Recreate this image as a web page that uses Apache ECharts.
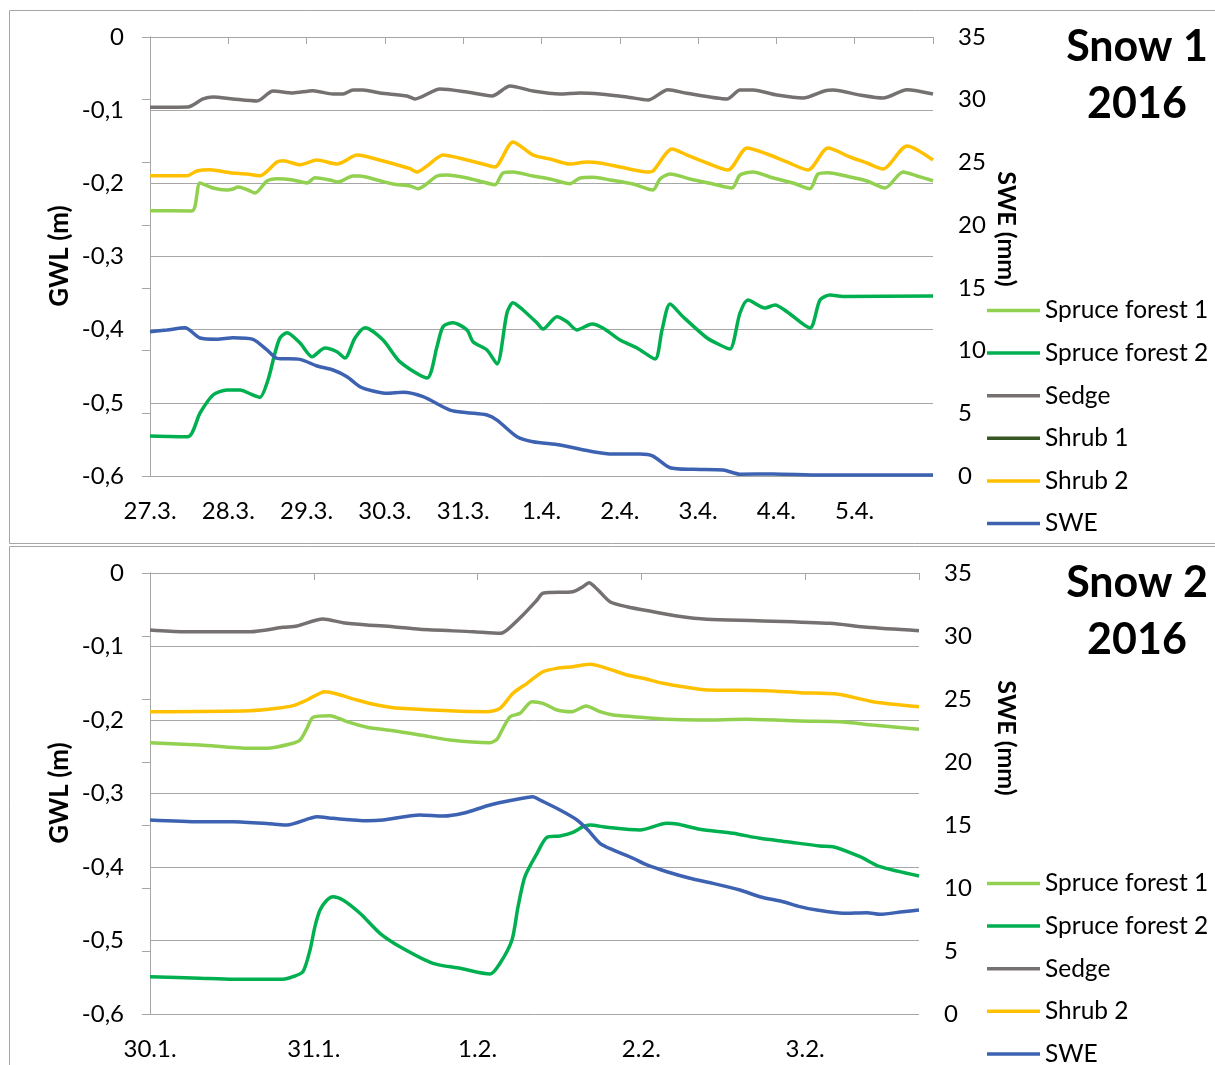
<!DOCTYPE html>
<html><head><meta charset="utf-8">
<script src="https://cdn.jsdelivr.net/npm/echarts@6/dist/echarts.min.js"></script>
<style>html,body{margin:0;padding:0;background:#fff}#c{width:1215px;height:1065px}</style>
</head><body><div id="c"></div>
<script>
// ---------- Snow 1 (days after 27.3. 00:00) ----------
const xLabels1 = ["27.3.","28.3.","29.3.","30.3.","31.3.","1.4.","2.4.","3.4.","4.4.","5.4."];
const xLabels2 = ["30.1.","31.1.","1.2.","2.2.","3.2."];
const seriesNames1 = ["Spruce forest 1","Spruce forest 2","Sedge","Shrub 1","Shrub 2","SWE"];
const seriesNames2 = ["Spruce forest 1","Spruce forest 2","Sedge","Shrub 2","SWE"];

const s1Spruce1 = [[0,-0.2374],[0.536,-0.2378],[0.639,-0.1995],[0.805,-0.2064],[0.983,-0.2091],[1.06,-0.2077],[1.124,-0.205],[1.252,-0.2091],[1.341,-0.2132],[1.494,-0.1968],[1.622,-0.1937],[1.826,-0.1954],[2.005,-0.1995],[2.107,-0.1923],[2.299,-0.1954],[2.401,-0.1982],[2.593,-0.19],[2.682,-0.19],[2.899,-0.1954],[3.103,-0.2009],[3.321,-0.2036],[3.423,-0.2073],[3.665,-0.19],[3.793,-0.1886],[4.049,-0.1927],[4.253,-0.1982],[4.406,-0.2019],[4.508,-0.1859],[4.636,-0.1845],[4.891,-0.19],[5.109,-0.1941],[5.364,-0.2005],[5.492,-0.1927],[5.658,-0.1917],[5.875,-0.1954],[6.169,-0.2009],[6.424,-0.2091],[6.513,-0.1941],[6.641,-0.1872],[6.897,-0.1941],[7.19,-0.2009],[7.433,-0.2064],[7.535,-0.1886],[7.701,-0.1845],[7.918,-0.1913],[8.212,-0.1995],[8.429,-0.2073],[8.531,-0.1872],[8.659,-0.1855],[8.94,-0.1913],[9.157,-0.1968],[9.387,-0.2064],[9.617,-0.1845],[9.796,-0.19],[10,-0.1964]];
const s1Spruce2 = [[0,-0.5453],[0.485,-0.5463],[0.639,-0.5139],[0.805,-0.4893],[0.983,-0.4824],[1.149,-0.4824],[1.315,-0.4893],[1.405,-0.4924],[1.507,-0.4688],[1.596,-0.4319],[1.66,-0.4114],[1.75,-0.4041],[1.916,-0.4182],[2.069,-0.4369],[2.235,-0.425],[2.388,-0.4301],[2.49,-0.4387],[2.618,-0.4114],[2.746,-0.3973],[2.976,-0.4141],[3.193,-0.4440],[3.538,-0.466],[3.665,-0.4233],[3.742,-0.3959],[3.87,-0.3905],[4.049,-0.4004],[4.125,-0.4164],[4.304,-0.4278],[4.432,-0.4469],[4.559,-0.3772],[4.636,-0.3631],[4.764,-0.3731],[4.943,-0.3909],[5.019,-0.3991],[5.198,-0.3823],[5.326,-0.3891],[5.453,-0.4004],[5.645,-0.3922],[5.785,-0.3977],[6.003,-0.4141],[6.22,-0.425],[6.45,-0.4401],[6.539,-0.4004],[6.641,-0.3649],[6.807,-0.3823],[7.114,-0.4114],[7.28,-0.4209],[7.407,-0.4264],[7.535,-0.3772],[7.637,-0.3594],[7.854,-0.3704],[7.982,-0.3663],[8.135,-0.3754],[8.429,-0.3977],[8.557,-0.3594],[8.685,-0.3526],[8.851,-0.3546],[10,-0.354]];
const s1Sedge = [[0,-0.096],[0.485,-0.0957],[0.677,-0.0847],[0.805,-0.082],[1.06,-0.0847],[1.367,-0.0875],[1.571,-0.0738],[1.826,-0.0765],[2.08,-0.0734],[2.337,-0.0779],[2.465,-0.0779],[2.593,-0.0724],[2.72,-0.0724],[2.937,-0.0765],[3.282,-0.0806],[3.384,-0.0847],[3.704,-0.0711],[4.049,-0.0752],[4.368,-0.0806],[4.598,-0.067],[4.891,-0.0738],[5.236,-0.0779],[5.49,-0.0765],[5.747,-0.0779],[6.092,-0.082],[6.36,-0.0861],[6.616,-0.072],[6.858,-0.0769],[7.369,-0.0847],[7.535,-0.0724],[7.701,-0.0724],[8.008,-0.0793],[8.34,-0.0834],[8.621,-0.0734],[8.723,-0.0724],[9.068,-0.0793],[9.362,-0.0834],[9.668,-0.072],[10,-0.0779]];
const s1Shrub1 = [];
const s1Shrub2 = [[0,-0.1896],[0.473,-0.1896],[0.6,-0.1831],[0.766,-0.1814],[1.022,-0.1855],[1.239,-0.1872],[1.405,-0.1896],[1.622,-0.1708],[1.699,-0.1691],[1.916,-0.1745],[2.133,-0.1681],[2.388,-0.1736],[2.465,-0.1708],[2.644,-0.1613],[2.72,-0.1622],[3.027,-0.1708],[3.321,-0.1800],[3.41,-0.1845],[3.538,-0.1763],[3.742,-0.1613],[4.049,-0.1681],[4.342,-0.1763],[4.406,-0.1777],[4.636,-0.1435],[4.891,-0.1613],[5.109,-0.1667],[5.364,-0.1736],[5.581,-0.1708],[5.747,-0.1722],[6.003,-0.1777],[6.347,-0.1845],[6.424,-0.1831],[6.667,-0.1531],[6.858,-0.1613],[7.114,-0.1722],[7.382,-0.1818],[7.625,-0.1517],[7.88,-0.1599],[8.135,-0.1708],[8.404,-0.1818],[8.659,-0.1517],[8.94,-0.164],[9.157,-0.1722],[9.362,-0.1804],[9.668,-0.1489],[10,-0.1681]];
const s1Swe = [[0,11.5],[0.217,11.64],[0.447,11.82],[0.639,11.0],[0.856,10.9],[1.06,11.03],[1.315,10.9],[1.494,10.05],[1.622,9.38],[1.916,9.3],[2.133,8.77],[2.337,8.45],[2.516,7.92],[2.682,7.12],[2.848,6.78],[3.027,6.59],[3.231,6.67],[3.487,6.32],[3.831,5.26],[4.049,5.05],[4.304,4.86],[4.432,4.46],[4.687,3.13],[4.891,2.73],[5.236,2.47],[5.658,1.94],[5.913,1.75],[6.258,1.75],[6.424,1.59],[6.641,0.66],[6.935,0.53],[7.318,0.48],[7.535,0.14],[7.957,0.16],[8.557,0.08],[10,0.08]];

// ---------- Snow 2 (days after 30.1. 00:00) ----------
const s2Spruce1 = [[0,-0.2309],[0.305,-0.234],[0.611,-0.2385],[0.714,-0.2385],[0.855,-0.2327],[0.916,-0.2272],[0.958,-0.2113],[0.995,-0.1963],[1.099,-0.1941],[1.203,-0.2023],[1.325,-0.2099],[1.484,-0.2146],[1.648,-0.2204],[1.832,-0.2272],[2.076,-0.2309],[2.118,-0.2263],[2.155,-0.2113],[2.198,-0.1955],[2.259,-0.1909],[2.332,-0.1751],[2.399,-0.1773],[2.485,-0.1864],[2.576,-0.1887],[2.662,-0.181],[2.747,-0.1887],[2.827,-0.1932],[2.949,-0.1955],[3.156,-0.199],[3.358,-0.2],[3.645,-0.199],[3.968,-0.2014],[4.212,-0.2023],[4.414,-0.2068],[4.695,-0.2127]];
const s2Spruce2 = [[0,-0.5493],[0.305,-0.5514],[0.507,-0.5528],[0.812,-0.5528],[0.873,-0.5493],[0.934,-0.5424],[0.977,-0.5129],[1.007,-0.4812],[1.038,-0.4585],[1.081,-0.4449],[1.117,-0.4404],[1.178,-0.4449],[1.282,-0.463],[1.404,-0.4902],[1.526,-0.5084],[1.728,-0.531],[1.893,-0.5378],[2.076,-0.5456],[2.137,-0.531],[2.21,-0.4993],[2.247,-0.454],[2.289,-0.4132],[2.363,-0.3814],[2.424,-0.3596],[2.503,-0.3578],[2.582,-0.3528],[2.643,-0.3452],[2.686,-0.3429],[2.79,-0.346],[2.991,-0.3497],[3.156,-0.3405],[3.217,-0.3415],[3.358,-0.3487],[3.559,-0.3541],[3.724,-0.361],[3.889,-0.3656],[4.09,-0.3714],[4.17,-0.3724],[4.335,-0.386],[4.457,-0.3996],[4.695,-0.4122]];
const s2Sedge = [[0,-0.0776],[0.201,-0.0799],[0.611,-0.0799],[0.812,-0.0739],[0.897,-0.0721],[1.056,-0.0626],[1.178,-0.0676],[1.325,-0.0707],[1.484,-0.0731],[1.648,-0.0766],[1.972,-0.0799],[2.137,-0.082],[2.179,-0.0776],[2.277,-0.0571],[2.363,-0.0367],[2.399,-0.0276],[2.582,-0.0254],[2.643,-0.0186],[2.68,-0.0132],[2.735,-0.0231],[2.808,-0.039],[2.912,-0.0459],[3.071,-0.0527],[3.217,-0.0585],[3.4,-0.063],[3.706,-0.0649],[4.151,-0.0684],[4.377,-0.0739],[4.695,-0.0785]];
const s2Shrub2 = [[0,-0.1887],[0.611,-0.1873],[0.775,-0.1841],[0.873,-0.1805],[0.958,-0.1728],[1.068,-0.1615],[1.142,-0.1646],[1.264,-0.1728],[1.386,-0.1796],[1.526,-0.1841],[2.057,-0.1887],[2.137,-0.1841],[2.216,-0.1637],[2.302,-0.1501],[2.399,-0.1343],[2.485,-0.1297],[2.582,-0.1275],[2.686,-0.1242],[2.79,-0.1297],[2.912,-0.1388],[3.01,-0.1433],[3.132,-0.1501],[3.315,-0.1569],[3.4,-0.1592],[3.767,-0.1601],[3.968,-0.1629],[4.194,-0.1646],[4.414,-0.1751],[4.695,-0.1819]];
const s2Swe = [[0,15.4],[0.305,15.26],[0.507,15.26],[0.751,15.08],[0.836,15.0],[0.977,15.53],[1.02,15.66],[1.117,15.53],[1.325,15.34],[1.422,15.4],[1.648,15.79],[1.789,15.71],[1.911,15.93],[2.076,16.59],[2.216,16.98],[2.338,17.25],[2.381,16.98],[2.503,16.19],[2.607,15.4],[2.674,14.6],[2.747,13.55],[2.827,13.02],[2.949,12.36],[3.034,11.83],[3.156,11.29],[3.297,10.77],[3.437,10.37],[3.602,9.84],[3.724,9.31],[3.864,8.91],[3.968,8.52],[4.072,8.25],[4.231,7.99],[4.377,8.04],[4.457,7.91],[4.597,8.12],[4.695,8.25]];

const colors = {"Spruce forest 1":"#92D050","Spruce forest 2":"#00B050","Sedge":"#767171","Shrub 1":"#375623","Shrub 2":"#FFC000","SWE":"#3D62B2"};
const FONT = "Lato, 'Liberation Sans', sans-serif";
const GRAY = "#A6A6A6";

function gwlFmt(v){ if (Math.abs(v) < 1e-9) return '0'; return v.toFixed(1).replace('.', ','); }

function xAxes(gridIndex, max, labels){
  return [
    {type:'value', gridIndex, min:0, max, interval:1, position:'bottom',
     axisLine:{show:true, lineStyle:{color:GRAY}}, axisTick:{show:false}, splitLine:{show:false},
     axisLabel:{margin:23, fontSize:24, fontFamily:FONT, color:'#000', showMaxLabel:false,
       formatter:(v)=>{const i=Math.round(v); return Math.abs(v-i)<1e-6 && labels[i]!==undefined ? labels[i] : '';}}},
    {type:'value', gridIndex, min:0, max, interval:1, position:'top',
     axisLine:{show:true, onZero:false, lineStyle:{color:GRAY}}, axisTick:{show:true, inside:true, length:7, lineStyle:{color:GRAY}},
     axisLabel:{show:false}, splitLine:{show:false}}
  ];
}
function yAxes(gridIndex){
  return [
    {type:'value', gridIndex, min:-0.6, max:0, interval:0.1, position:'left',
     axisLine:{show:true, lineStyle:{color:GRAY}}, axisTick:{show:false},
     splitLine:{show:true, lineStyle:{color:GRAY, width:1}},
     axisLabel:{margin:26, fontSize:24, fontFamily:FONT, color:'#000', formatter:gwlFmt}},
    {type:'value', gridIndex, min:0, max:35, interval:5, position:'right',
     axisLine:{show:true, lineStyle:{color:GRAY}}, axisTick:{show:true, inside:true, length:8, lineStyle:{color:GRAY}},
     splitLine:{show:false},
     axisLabel:{margin:25, fontSize:24, fontFamily:FONT, color:'#000'}}
  ];
}
function mk(name, data, xi, yi){
  return {name, type:'line', data, xAxisIndex:xi, yAxisIndex:yi, showSymbol:false, symbol:'none',
    smooth:0.25, color:colors[name], lineStyle:{width:3.5, color:colors[name]}, animation:false};
}

const legendBase = {orient:'vertical', icon:'rect', itemWidth:53, itemHeight:3.5, itemGap:17.6, padding:0, height:320,
  selectedMode:false, textStyle:{fontSize:24.5, fontFamily:FONT, color:'#000', lineHeight:24}};

function txt(text, x, y, size, bold, rot){
  return {type:'text', x, y, rotation:rot||0, silent:true,
    style:{text, fontSize:size, fontWeight:bold?'bold':'normal', fontFamily:FONT, fill:'#000', textAlign:'center', textVerticalAlign:'middle'}};
}

const chart = echarts.init(document.getElementById('c'), null, {renderer:'canvas'});
chart.setOption({
  animation:false,
  backgroundColor:'#fff',
  grid:[{left:150, top:37, width:783, height:439}, {left:150, top:573, width:769, height:441}],
  xAxis:[...xAxes(0, 10, xLabels1), ...xAxes(1, 4.695, xLabels2)],
  yAxis:[...yAxes(0), ...yAxes(1)],
  legend:[
    Object.assign({}, legendBase, {left:987, top:298, data:seriesNames1}),
    Object.assign({}, legendBase, {left:987, top:871, data:seriesNames2})
  ],
  series:[
    mk("Spruce forest 1", s1Spruce1, 0, 0),
    mk("Spruce forest 2", s1Spruce2, 0, 0),
    mk("Sedge", s1Sedge, 0, 0),
    mk("Shrub 1", s1Shrub1, 0, 0),
    mk("Shrub 2", s1Shrub2, 0, 0),
    mk("SWE", s1Swe, 0, 1),
    mk("Spruce forest 1", s2Spruce1, 2, 2),
    mk("Spruce forest 2", s2Spruce2, 2, 2),
    mk("Sedge", s2Sedge, 2, 2),
    mk("Shrub 2", s2Shrub2, 2, 2),
    mk("SWE", s2Swe, 2, 3)
  ],
  graphic:[
    {type:'rect', silent:true, z:-1, shape:{x:9.5, y:10.5, width:1220, height:533}, style:{fill:null, stroke:'#A6A6A6', lineWidth:1}},
    {type:'rect', silent:true, z:-1, shape:{x:9.5, y:546.5, width:1220, height:530}, style:{fill:null, stroke:'#A6A6A6', lineWidth:1}},
    txt("GWL (m)", 60, 256, 26, true, Math.PI/2),
    txt("SWE (mm)", 1006, 229, 25, true, -Math.PI/2),
    txt("Snow 1", 1137, 47, 43, true),
    txt("2016", 1137, 104, 43, true),
    txt("GWL (m)", 60, 793, 26, true, Math.PI/2),
    txt("SWE (mm)", 1006, 738, 25, true, -Math.PI/2),
    txt("Snow 2", 1137, 583, 43, true),
    txt("2016", 1137, 640, 43, true)
  ]
});
</script></body></html>
